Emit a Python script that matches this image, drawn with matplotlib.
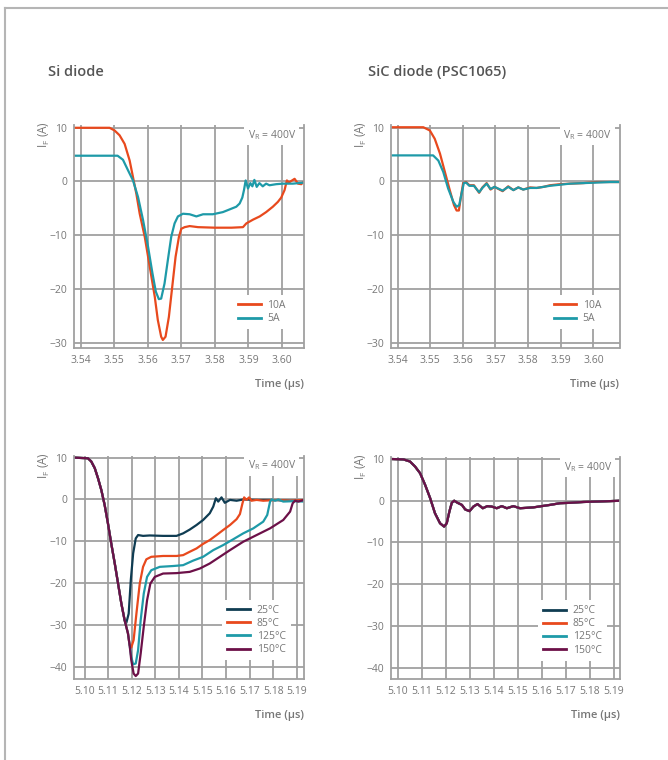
import numpy as np
import matplotlib.pyplot as plt
from matplotlib.lines import Line2D

plt.rcParams['font.family'] = ['Open Sans', 'DejaVu Sans']

# Colours
ORANGE = '#e8491d'
TEAL = '#1e9aa8'
NAVY = '#0f3c52'
PURPLE = '#6c1048'
GRID = '#a0a0a0'
TXT = '#777777'

# ---- Si diode, current comparison (time in us, current in A) ----
si_10a_t = [3.538, 3.5486, 3.5501, 3.5516, 3.5531, 3.5546, 3.5556, 3.5566, 3.5576, 3.5591,
            3.5606, 3.5621, 3.5630, 3.5640, 3.5645, 3.5653, 3.5663, 3.5673, 3.5683, 3.5693,
            3.5700, 3.5710, 3.5725, 3.5750, 3.5800, 3.5850, 3.5884, 3.5894, 3.5914, 3.5934,
            3.5953, 3.5973, 3.5988, 3.5998, 3.6008, 3.6015, 3.6021, 3.6028, 3.6038, 3.6048,
            3.6058, 3.6066]
si_10a_i = [10.0, 10.0, 9.5, 8.6, 7.0, 3.9, 0.8, -2.3, -6.0, -10.3,
            -15.9, -21.5, -25.8, -28.9, -29.5, -28.9, -25.2, -19.6, -14.0, -10.3,
            -8.8, -8.5, -8.3, -8.5, -8.6, -8.6, -8.5, -7.8, -7.1, -6.5,
            -5.7, -4.7, -3.8, -3.0, -1.6, 0.2, -0.2, 0.1, 0.5, -0.4,
            -0.5, 0.0]

si_5a_t = [3.538, 3.5510, 3.5526, 3.5541, 3.5556, 3.5571, 3.5586, 3.5601, 3.5614, 3.5624,
           3.5633, 3.5640, 3.5650, 3.5660, 3.5670, 3.5680, 3.5690, 3.5705, 3.5725, 3.5745,
           3.5765, 3.5794, 3.5824, 3.5844, 3.5864, 3.5874, 3.5882, 3.5887, 3.5892, 3.5899,
           3.5906, 3.5912, 3.5918, 3.5925, 3.5933, 3.5943, 3.5953, 3.5963, 3.5983, 3.6003,
           3.6033, 3.6066]
si_5a_i = [4.8, 4.8, 4.05, 2.1, 0.2, -2.9, -7.2, -12.2, -17.1, -20.5,
           -21.9, -21.8, -19.0, -14.6, -10.3, -7.8, -6.5, -6.0, -6.1, -6.5,
           -6.1, -6.1, -5.7, -5.2, -4.7, -4.1, -3.0, -1.6, 0.2, -1.3,
           -0.3, -0.9, 0.3, -1.0, -0.3, -0.9, -0.4, -0.7, -0.5, -0.4,
           -0.4, -0.2]

# ---- SiC diode, current comparison ----
sic_10a_t = [3.538, 3.5479, 3.5499, 3.5514, 3.5530, 3.5545, 3.5560, 3.5573, 3.5581, 3.5588,
             3.5594, 3.5601, 3.5610, 3.5620, 3.5634, 3.5650, 3.5660, 3.5673, 3.5685, 3.5697,
             3.5722, 3.5739, 3.5755, 3.5770, 3.5785, 3.5806, 3.5826, 3.5847, 3.5867, 3.5898,
             3.5928, 3.5969, 3.6010, 3.6051, 3.6080]
sic_10a_i = [10.1, 10.1, 9.5, 7.95, 5.2, 1.8, -1.6, -4.4, -5.4, -5.4,
             -2.9, -0.3, -0.1, -0.7, -0.7, -2.1, -1.1, -0.3, -1.5, -1.0,
             -1.8, -0.9, -1.6, -1.1, -1.5, -1.1, -1.2, -1.0, -0.7, -0.5,
             -0.4, -0.3, -0.1, -0.1, -0.1]

sic_5a_t = [3.538, 3.5509, 3.5525, 3.5540, 3.5555, 3.5571, 3.5581, 3.5589, 3.5596, 3.5603,
            3.5610, 3.5620, 3.5634, 3.5650, 3.5660, 3.5673, 3.5685, 3.5697, 3.5722, 3.5739,
            3.5755, 3.5770, 3.5785, 3.5806, 3.5826, 3.5847, 3.5867, 3.5898, 3.5928, 3.5969,
            3.6010, 3.6051, 3.6080]
sic_5a_i = [4.86, 4.86, 3.9, 1.8, -1.3, -3.8, -4.7, -4.4, -2.3, -0.3,
            -0.2, -0.8, -0.8, -2.0, -1.2, -0.4, -1.4, -1.0, -1.7, -1.0,
            -1.6, -1.1, -1.5, -1.2, -1.2, -1.0, -0.8, -0.6, -0.4, -0.3,
            -0.2, -0.1, -0.1]

# ---- Si diode, temperature comparison ----
fall_t = [5.0955, 5.1014, 5.1028, 5.1043, 5.1057, 5.1071, 5.1085, 5.1099, 5.1113, 5.1128,
          5.1142, 5.1156, 5.1170]
fall_i = [10.0, 9.85, 9.1, 7.5, 5.05, 2.25, -1.3, -5.7, -10.5, -15.3,
          -20.1, -24.9, -28.9]

si_25_t = [5.1177, 5.1187, 5.1196, 5.1206, 5.1217, 5.1227, 5.1248, 5.1276, 5.1333, 5.1390,
           5.1418, 5.1446, 5.1475, 5.1503, 5.1531, 5.1546, 5.1557, 5.1567, 5.1581, 5.1595,
           5.1617, 5.1645, 5.1673, 5.1730, 5.1787, 5.1872, 5.1931]
si_25_i = [-29.5, -27.3, -19.3, -12.9, -9.3, -8.5, -8.7, -8.6, -8.7, -8.7,
           -8.1, -7.2, -6.1, -4.9, -3.3, -1.7, 0.3, -0.5, 0.5, -0.8,
           -0.1, -0.3, 0.0, -0.1, -0.1, -0.3, -0.3]

si_85_t = [5.1184, 5.1191, 5.1198, 5.1208, 5.1220, 5.1234, 5.1248, 5.1262, 5.1283, 5.1333,
           5.1390, 5.1418, 5.1446, 5.1475, 5.1503, 5.1531, 5.1560, 5.1588, 5.1617, 5.1645,
           5.1659, 5.1670, 5.1677, 5.1687, 5.1698, 5.1708, 5.1730, 5.1758, 5.1815, 5.1872,
           5.1931]
si_85_i = [-32.0, -34.8, -35.4, -33.6, -27.2, -20.1, -16.1, -14.3, -13.7, -13.5,
           -13.5, -13.3, -12.5, -11.7, -10.6, -9.7, -8.5, -7.3, -6.1, -4.7,
           -3.5, -0.9, 0.5, -0.1, 0.5, -0.3, -0.1, -0.3, -0.1, -0.3,
           -0.1]

si_125_t = [5.1184, 5.1191, 5.1198, 5.1206, 5.1217, 5.1227, 5.1238, 5.1251, 5.1265, 5.1283,
            5.1319, 5.1376, 5.1418, 5.1461, 5.1503, 5.1546, 5.1588, 5.1631, 5.1673, 5.1716,
            5.1758, 5.1775, 5.1787, 5.1794, 5.1808, 5.1822, 5.1843, 5.1886, 5.1931]
si_125_i = [-32.0, -34.8, -37.6, -39.4, -39.2, -36.0, -28.8, -22.5, -18.5, -16.9,
            -16.1, -15.9, -15.7, -14.6, -13.7, -12.1, -10.9, -9.5, -8.1, -6.9,
            -5.3, -3.7, -0.5, 0.0, -0.3, 0.0, -0.5, -0.4, -0.5]

si_150_t = [5.1184, 5.1191, 5.1198, 5.1208, 5.1217, 5.1227, 5.1238, 5.1251, 5.1265, 5.1279,
            5.1298, 5.1333, 5.1390, 5.1446, 5.1489, 5.1531, 5.1574, 5.1617, 5.1673, 5.1730,
            5.1787, 5.1843, 5.1872, 5.1883, 5.1893, 5.1907, 5.1931]
si_150_i = [-32.0, -34.8, -38.4, -41.6, -42.2, -41.6, -36.8, -30.4, -24.1, -20.1,
            -18.5, -17.7, -17.6, -17.3, -16.5, -15.3, -13.7, -12.1, -10.1, -8.5,
            -6.9, -4.9, -2.9, -0.9, -0.3, -0.5, -0.1]

# ---- SiC diode, temperature comparison (all four traces overlap) ----
sic_temp_t = [5.0972, 5.1024, 5.1051, 5.1072, 5.1093, 5.1114, 5.1135, 5.1155, 5.1176, 5.1193,
              5.1204, 5.1215, 5.1225, 5.1235, 5.1249, 5.1267, 5.1281, 5.1299, 5.1315, 5.1332,
              5.1354, 5.1373, 5.1391, 5.1412, 5.1433, 5.1454, 5.1481, 5.1509, 5.1537, 5.1564,
              5.1599, 5.1634, 5.1675, 5.1717, 5.1773, 5.1828, 5.1883, 5.1925]
sic_temp_i = [10.0, 9.9, 9.4, 8.2, 6.6, 3.8, 0.6, -3.0, -5.4, -6.2,
              -5.4, -2.6, -0.5, 0.0, -0.5, -1.0, -2.1, -2.5, -1.4, -0.8,
              -1.8, -1.3, -1.4, -1.8, -1.3, -1.8, -1.3, -1.8, -1.7, -1.6,
              -1.3, -1.0, -0.6, -0.5, -0.3, -0.2, -0.1, 0.0]

cur_labels = ['10A', '5A']
temp_labels = ['25°C', '85°C', '125°C', '150°C']
temp_colors = [NAVY, ORANGE, TEAL, PURPLE]

fig = plt.figure(figsize=(6.68, 7.6), dpi=100)

# outer frame (top and left edges)
fig.add_artist(Line2D([0.008, 1.0], [0.9895, 0.9895], color='#b5b5b5', lw=1.5))
fig.add_artist(Line2D([0.008, 0.008], [0.0, 0.9895], color='#b5b5b5', lw=1.5))

fig.text(48 / 668, 1 - 72 / 760, 'Si diode', fontsize=10.5, fontweight='semibold',
         color='#555555', va='center', ha='left')
fig.text(368 / 668, 1 - 72 / 760, 'SiC diode (PSC1065)', fontsize=10.5, fontweight='semibold',
         color='#555555', va='center', ha='left')


def style_axes(ax, xlim, ylim, xticks, yticks, xfmt):
    ax.set_xlim(*xlim)
    ax.set_ylim(*ylim)
    ax.set_xticks(xticks)
    ax.set_yticks(yticks)
    ax.set_xticklabels([xfmt % v for v in xticks])
    ax.set_yticklabels(['%d' % v if v >= 0 else '\u2212%d' % -v for v in yticks])
    ax.grid(True, color=GRID, lw=1.3)
    ax.set_axisbelow(True)
    ax.tick_params(length=0, labelsize=7.5, colors=TXT, pad=5)
    ax.spines['top'].set_visible(False)
    for s in ['left', 'bottom', 'right']:
        ax.spines[s].set_color(GRID)
        ax.spines[s].set_linewidth(1.3)
    ax.set_xlabel('Time (µs)', fontsize=8, color=TXT, fontweight='semibold')
    ax.xaxis.set_label_coords(1.0, -0.14)
    ax.xaxis.label.set_horizontalalignment('right')
    ax.set_ylabel('I$_\\mathregular{F}$ (A)', fontsize=8.5, color=TXT)
    ax.yaxis.set_label_coords(-0.13, 0.955)
    ax.yaxis.label.set_verticalalignment('center')
    ax.yaxis.label.set_horizontalalignment('center')
    ax.text(0.965, 0.955, 'V$_\\mathregular{R}$ = 400V', transform=ax.transAxes,
            ha='right', va='center', fontsize=7.5, color=TXT,
            bbox=dict(facecolor='white', edgecolor='none', pad=2.5))


def add_legend(ax, labels, colors):
    handles = [Line2D([], [], color=c, lw=2) for c in colors]
    leg = ax.legend(handles, labels, loc='lower right', bbox_to_anchor=(0.965, 0.06),
                    frameon=True, fontsize=7.5, handlelength=2.2, handletextpad=0.6,
                    labelspacing=0.2, borderpad=0.5, labelcolor=TXT)
    leg.get_frame().set_edgecolor('none')
    leg.get_frame().set_facecolor('white')
    leg.get_frame().set_alpha(1)
    leg.get_frame().set_boxstyle('square', pad=0)


cur_xticks = [3.54, 3.55, 3.56, 3.57, 3.58, 3.59, 3.60]
temp_xticks = [5.10, 5.11, 5.12, 5.13, 5.14, 5.15, 5.16, 5.17, 5.18, 5.19]

# top left
ax1 = fig.add_axes([74 / 668, 0.5421, 230 / 668, 0.294])
ax1.plot(si_10a_t, si_10a_i, color=ORANGE, lw=1.6)
ax1.plot(si_5a_t, si_5a_i, color=TEAL, lw=1.6)
style_axes(ax1, (3.538, 3.6066), (-31.0, 10.6), cur_xticks, [10, 0, -10, -20, -30], '%.2f')
add_legend(ax1, cur_labels, [ORANGE, TEAL])

# top right
ax2 = fig.add_axes([391 / 668, 0.5421, 228.5 / 668, 0.294])
ax2.plot(sic_10a_t, sic_10a_i, color=ORANGE, lw=1.6)
ax2.plot(sic_5a_t, sic_5a_i, color=TEAL, lw=1.6)
style_axes(ax2, (3.538, 3.608), (-31.0, 10.6), cur_xticks, [10, 0, -10, -20, -30], '%.2f')
add_legend(ax2, cur_labels, [ORANGE, TEAL])

# bottom left
ax3 = fig.add_axes([74 / 668, 0.1066, 230 / 668, 0.294])
temp_t = [si_25_t, si_85_t, si_125_t, si_150_t]
temp_i = [si_25_i, si_85_i, si_125_i, si_150_i]
for t, i, c in zip(temp_t, temp_i, temp_colors):
    ax3.plot(fall_t + t, fall_i + i, color=c, lw=1.6)
style_axes(ax3, (5.0955, 5.1931), (-42.9, 10.5), temp_xticks, [10, 0, -10, -20, -30, -40], '%.2f')
add_legend(ax3, temp_labels, temp_colors)

# bottom right
ax4 = fig.add_axes([391 / 668, 0.1062, 229 / 668, 0.2926])
for c in temp_colors:
    ax4.plot(sic_temp_t, sic_temp_i, color=c, lw=1.6)
style_axes(ax4, (5.0972, 5.1925), (-42.8, 10.5), temp_xticks, [10, 0, -10, -20, -30, -40], '%.2f')
add_legend(ax4, temp_labels, temp_colors)

fig.savefig('out.png', dpi=100, facecolor='white')
